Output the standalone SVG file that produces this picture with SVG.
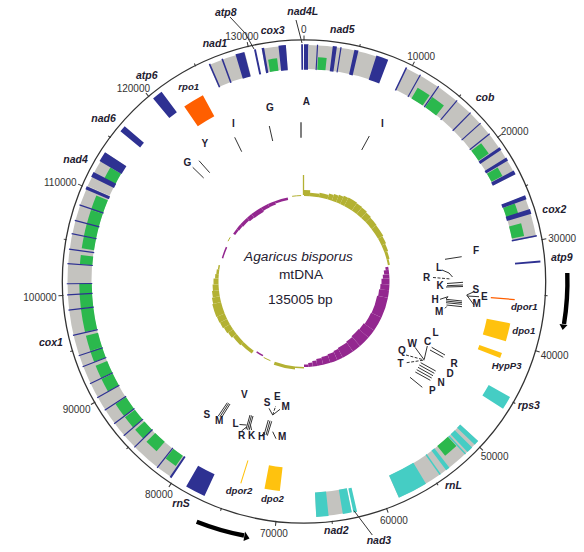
<svg xmlns="http://www.w3.org/2000/svg" width="584" height="552" viewBox="0 0 584 552">
<style>
text{font-family:"Liberation Sans",Arial,sans-serif;fill:#1e2030}
.n{font-size:10px;fill:#333}
.l{font-size:10.5px;font-weight:bold;font-style:italic}
.s{font-size:9.6px;font-weight:bold;font-style:italic}
.t{font-size:10px;font-weight:bold}
.c{font-size:13.7px;text-anchor:middle}
circle{fill:none}
.y{stroke:#c4c3bf;stroke-width:24}
.b{stroke:#2e3192;stroke-width:25.5}
.g{stroke:#2bb84d;stroke-width:12.5}
.q{stroke:#45cdc4;stroke-width:24.5}
.f{stroke:#ff5f00;stroke-width:24}
.d{stroke:#ffc20e;stroke-width:24}
.o{stroke:#b3b133}
.p{stroke:#93278f}
line,polyline{stroke:#333;fill:none;stroke-width:1}
.k{stroke-width:1.5;stroke:#555}
.m{stroke-dasharray:3 1.5}
</style>
<g id="backbone">
<circle cx="304" cy="281.5" r="241.7" style="stroke:#333;stroke-width:1.3"/>
<g transform="translate(304 281.5)">
<line y1="-241" y2="-246"/><line y1="-241" y2="-244" transform="rotate(13.33)"/><line y1="-241" y2="-246" transform="rotate(26.67)"/><line y1="-241" y2="-244" transform="rotate(40)"/><line y1="-241" y2="-246" transform="rotate(53.33)"/><line y1="-241" y2="-244" transform="rotate(66.66)"/><line y1="-241" y2="-246" transform="rotate(80)"/><line y1="-241" y2="-244" transform="rotate(93.33)"/><line y1="-241" y2="-246" transform="rotate(106.66)"/><line y1="-241" y2="-244" transform="rotate(120)"/><line y1="-241" y2="-246" transform="rotate(133.33)"/><line y1="-241" y2="-244" transform="rotate(146.66)"/><line y1="-241" y2="-246" transform="rotate(160)"/><line y1="-241" y2="-244" transform="rotate(173.33)"/><line y1="-241" y2="-246" transform="rotate(186.66)"/><line y1="-241" y2="-244" transform="rotate(200)"/><line y1="-241" y2="-246" transform="rotate(213.32)"/><line y1="-241" y2="-244" transform="rotate(226.66)"/><line y1="-241" y2="-246" transform="rotate(240)"/><line y1="-241" y2="-244" transform="rotate(253.32)"/><line y1="-241" y2="-246" transform="rotate(266.66)"/><line y1="-241" y2="-244" transform="rotate(280)"/><line y1="-241" y2="-246" transform="rotate(293.32)"/><line y1="-241" y2="-244" transform="rotate(306.65)"/><line y1="-241" y2="-246" transform="rotate(320)"/><line y1="-241" y2="-244" transform="rotate(333.3)"/><line y1="-241" y2="-246" transform="rotate(346.65)"/>
</g>
<text class="n" x="301" y="33">0</text><text class="n" x="407.3" y="60">10000</text><text class="n" x="500.7" y="134.7">20000</text><text class="n" x="548.3" y="242">30000</text><text class="n" x="540.7" y="358.7">40000</text><text class="n" x="480.7" y="460.3">50000</text><text class="n" x="380" y="523.7">60000</text><text class="n" x="260" y="537">70000</text><text class="n" x="145" y="498">80000</text><text class="n" x="62.7" y="412.7">90000</text><text class="n" x="23.3" y="301">100000</text><text class="n" x="44" y="186.3">110000</text><text class="n" x="116.7" y="92">120000</text><text class="n" x="225.3" y="39.7">130000</text>
</g>
<g id="nad4L"><g transform="translate(304 281.5) rotate(-90)"><circle class="b" r="224.5" pathLength="360" stroke-dasharray="0 359.3 .45 720"/><circle class="b" r="224.5" pathLength="360" stroke-dasharray="1.1 720"/></g><text class="l" x="287.3" y="15">nad4L</text></g>
<g id="nad5"><g transform="translate(304 281.5) rotate(-90)"><circle class="y" r="224.5" pathLength="360" stroke-dasharray="0 1.1 18 720"/><circle class="g" r="218.5" pathLength="360" stroke-dasharray="0 3.6 2.2 720"/><circle class="b" r="224.5" pathLength="360" stroke-dasharray="0 3.15 .3 720"/><circle class="b" r="224.5" pathLength="360" stroke-dasharray="0 7 1 720"/><circle class="b" r="224.5" pathLength="360" stroke-dasharray="0 8.85 .3 720"/><circle class="b" r="224.5" pathLength="360" stroke-dasharray="0 12.3 1 720"/><circle class="b" r="224.5" pathLength="360" stroke-dasharray="0 17.8 3 720"/></g><text class="l" x="330" y="32.7">nad5</text></g>
<g id="cob"><g transform="translate(304 281.5) rotate(-90)"><circle class="y" r="224.5" pathLength="360" stroke-dasharray="0 25.6 37.5 720"/><circle class="g" r="218.5" pathLength="360" stroke-dasharray="0 30.4 3.6 720"/><circle class="g" r="218.5" pathLength="360" stroke-dasharray="0 34.8 3.7 720"/><circle class="g" r="218.5" pathLength="360" stroke-dasharray="0 52 3.3 720"/><circle class="g" r="218.5" pathLength="360" stroke-dasharray="0 59.5 2.5 720"/><circle class="b" r="224.5" pathLength="360" stroke-dasharray="0 25.4 .4 720"/><circle class="b" r="224.5" pathLength="360" stroke-dasharray="0 29.25 .3 720"/><circle class="b" r="224.5" pathLength="360" stroke-dasharray="0 34.45 .3 720"/><circle class="b" r="224.5" pathLength="360" stroke-dasharray="0 40.05 .3 720"/><circle class="b" r="224.5" pathLength="360" stroke-dasharray="0 44.45 .3 720"/><circle class="b" r="224.5" pathLength="360" stroke-dasharray="0 47.95 .3 720"/><circle class="b" r="224.5" pathLength="360" stroke-dasharray="0 51.35 .3 720"/><circle class="b" r="224.5" pathLength="360" stroke-dasharray="0 55.5 .8 720"/><circle class="b" r="224.5" pathLength="360" stroke-dasharray="0 58.5 .8 720"/><circle class="b" r="224.5" pathLength="360" stroke-dasharray="0 62.1 1 720"/></g><text class="l" x="475.7" y="101">cob</text></g>
<g id="cox2"><g transform="translate(304 281.5) rotate(-90)"><circle class="y" r="224.5" pathLength="360" stroke-dasharray="0 68.8 10.3 720"/><circle class="g" r="218.5" pathLength="360" stroke-dasharray="0 69.7 2.8 720"/><circle class="g" r="218.5" pathLength="360" stroke-dasharray="0 75 3.3 720"/><circle class="b" r="224.5" pathLength="360" stroke-dasharray="0 68.7 1 720"/><circle class="b" r="224.5" pathLength="360" stroke-dasharray="0 72.2 1.2 720"/><circle class="b" r="224.5" pathLength="360" stroke-dasharray="0 78.7 .4 720"/></g><text class="l" x="542.3" y="213">cox2</text></g>
<g id="atp9"><g transform="translate(304 281.5) rotate(-90)"><circle class="b" r="224.5" pathLength="360" stroke-dasharray="0 84.9 .5 720"/></g><text class="l" x="551" y="261">atp9</text></g>
<g id="dpor1"><g transform="translate(304 281.5) rotate(-90)"><circle class="f" r="199.5" pathLength="360" stroke-dasharray="0 94.75 .35 720"/></g><text class="s" x="511" y="310">dpor1</text></g>
<g id="dpo1"><g transform="translate(304 281.5) rotate(-90)"><circle class="d" r="198.5" pathLength="360" stroke-dasharray="0 101.5 5 720"/></g><text class="s" x="512.3" y="334">dpo1</text></g>
<g id="HypP3"><g transform="translate(304 281.5) rotate(-90)"><circle class="d" r="198.5" pathLength="360" stroke-dasharray="0 109.9 1.4 720"/></g><text class="s" x="491.7" y="369">HypP3</text></g>
<g id="rps3"><g transform="translate(304 281.5) rotate(-90)"><circle class="q" r="224" pathLength="360" stroke-dasharray="0 119.3 3.3 720"/></g><text class="l" x="517.7" y="409.3">rps3</text></g>
<g id="rnL"><g transform="translate(304 281.5) rotate(-90)"><circle class="y" r="224" pathLength="360" stroke-dasharray="0 132.5 23.8 720"/><circle class="q" r="224" pathLength="360" stroke-dasharray="0 132.5 1.2 720"/><circle class="q" r="224" pathLength="360" stroke-dasharray="0 134.6 1.6 720"/><circle class="q" r="224" pathLength="360" stroke-dasharray="0 136.7 .35 720"/><circle class="g" r="218" pathLength="360" stroke-dasharray="0 137.2 3.8 720"/><circle class="q" r="224" pathLength="360" stroke-dasharray="0 142 1 720"/><circle class="q" r="224" pathLength="360" stroke-dasharray="0 144.6 .35 720"/><circle class="q" r="224" pathLength="360" stroke-dasharray="0 148.9 7.4 720"/></g><text class="l" x="445" y="489.3">rnL</text></g>
<g id="nad3"><g transform="translate(304 281.5) rotate(-90)"><circle class="q" r="224" pathLength="360" stroke-dasharray="0 167 .9 720"/></g><text class="l" x="366.7" y="543.7">nad3</text></g>
<g id="nad2"><g transform="translate(304 281.5) rotate(-90)"><circle class="y" r="223.5" pathLength="360" stroke-dasharray="0 168.3 8.7 720"/><circle class="q" r="223.5" pathLength="360" stroke-dasharray="0 168.3 2.2 720"/><circle class="q" r="223.5" pathLength="360" stroke-dasharray="0 174 3 720"/></g><text class="l" x="324" y="533.7">nad2</text></g>
<g id="dpo2"><g transform="translate(304 281.5) rotate(-90)"><circle class="d" r="199" pathLength="360" stroke-dasharray="0 186.6 4.2 720"/></g><text class="s" x="261" y="502">dpo2</text></g>
<g id="dpor2"><g transform="translate(304 281.5) rotate(-90)"><circle class="d" r="199.5" pathLength="360" stroke-dasharray="0 197.25 .3 720"/></g><text class="s" x="225.7" y="494">dpor2</text></g>
<g id="rnS"><g transform="translate(304 281.5) rotate(-90)"><circle class="b" r="224.5" pathLength="360" stroke-dasharray="0 204.9 5 720" style="stroke-width:24"/></g><text class="l" x="172.3" y="507">rnS</text></g>
<g id="cox1"><g transform="translate(304 281.5) rotate(-90)"><circle class="y" r="224.5" pathLength="360" stroke-dasharray="0 214.2 79.6 720"/>
<circle class="g" r="218.5" pathLength="360" stroke-dasharray="0 214.8 3.2 720"/><circle class="g" r="218.5" pathLength="360" stroke-dasharray="0 221 3.5 720"/><circle class="g" r="218.5" pathLength="360" stroke-dasharray="0 225.6 3.1 720"/><circle class="g" r="218.5" pathLength="360" stroke-dasharray="0 229.5 3.3 720"/><circle class="g" r="218.5" pathLength="360" stroke-dasharray="0 233.2 3.8 720"/><circle class="g" r="218.5" pathLength="360" stroke-dasharray="0 240.7 3.6 720"/><circle class="g" r="218.5" pathLength="360" stroke-dasharray="0 244.5 3.5 720"/><circle class="g" r="218.5" pathLength="360" stroke-dasharray="0 249 3 720"/><circle class="g" r="218.5" pathLength="360" stroke-dasharray="0 252 4 720"/><circle class="g" r="218.5" pathLength="360" stroke-dasharray="0 257 6 720"/><circle class="g" r="218.5" pathLength="360" stroke-dasharray="0 263.1 6.4 720"/><circle class="g" r="218.5" pathLength="360" stroke-dasharray="0 274.4 2.4 720"/><circle class="g" r="218.5" pathLength="360" stroke-dasharray="0 278.5 3.2 720"/><circle class="g" r="218.5" pathLength="360" stroke-dasharray="0 281.7 3.3 720"/><circle class="g" r="218.5" pathLength="360" stroke-dasharray="0 284.8 3.8 720"/><circle class="g" r="218.5" pathLength="360" stroke-dasharray="0 288.6 3.9 720"/>
<circle class="b" r="224.5" pathLength="360" stroke-dasharray="0 214 .5 720"/><circle class="b" r="224.5" pathLength="360" stroke-dasharray="0 218.1 .3 720"/><circle class="b" r="224.5" pathLength="360" stroke-dasharray="0 225.5 .3 720"/><circle class="b" r="224.5" pathLength="360" stroke-dasharray="0 229.3 .3 720"/><circle class="b" r="224.5" pathLength="360" stroke-dasharray="0 233 .3 720"/><circle class="b" r="224.5" pathLength="360" stroke-dasharray="0 237 .3 720"/><circle class="b" r="224.5" pathLength="360" stroke-dasharray="0 240.5 .3 720"/><circle class="b" r="224.5" pathLength="360" stroke-dasharray="0 244.3 .3 720"/><circle class="b" r="224.5" pathLength="360" stroke-dasharray="0 248.8 .3 720"/><circle class="b" r="224.5" pathLength="360" stroke-dasharray="0 251.6 .3 720"/><circle class="b" r="224.5" pathLength="360" stroke-dasharray="0 256.7 .3 720"/><circle class="b" r="224.5" pathLength="360" stroke-dasharray="0 262.9 .3 720"/><circle class="b" r="224.5" pathLength="360" stroke-dasharray="0 266.6 .3 720"/><circle class="b" r="224.5" pathLength="360" stroke-dasharray="0 269.3 .3 720"/><circle class="b" r="224.5" pathLength="360" stroke-dasharray="0 274.2 .3 720"/><circle class="b" r="224.5" pathLength="360" stroke-dasharray="0 277.7 .3 720"/><circle class="b" r="224.5" pathLength="360" stroke-dasharray="0 281.5 .3 720"/><circle class="b" r="224.5" pathLength="360" stroke-dasharray="0 284.8 .3 720"/><circle class="b" r="224.5" pathLength="360" stroke-dasharray="0 288.7 .3 720"/><circle class="b" r="224.5" pathLength="360" stroke-dasharray="0 292.9 .8 720"/></g><text class="l" x="39" y="346">cox1</text></g>
<g id="nad4"><g transform="translate(304 281.5) rotate(-90)"><circle class="y" r="224.5" pathLength="360" stroke-dasharray="0 293.8 9.2 720"/><circle class="g" r="218.5" pathLength="360" stroke-dasharray="0 297 3.5 720"/><circle class="b" r="224.5" pathLength="360" stroke-dasharray="0 296.2 1.3 720"/><circle class="b" r="224.5" pathLength="360" stroke-dasharray="0 300.5 2.5 720"/></g><text class="l" x="63.3" y="163">nad4</text></g>
<g id="nad6"><g transform="translate(304 281.5) rotate(-90)"><circle class="b" r="224.5" pathLength="360" stroke-dasharray="0 309.3 1.6 720"/></g><text class="l" x="91.3" y="122">nad6</text></g>
<g id="atp6"><g transform="translate(304 281.5) rotate(-90)"><circle class="b" r="224.5" pathLength="360" stroke-dasharray="0 320.5 2.6 720"/></g><text class="l" x="136" y="79">atp6</text></g>
<g id="rpo1"><g transform="translate(304 281.5) rotate(-90)"><circle class="f" r="200" pathLength="360" stroke-dasharray="0 325.6 5.9 720"/></g><text class="s" x="178.3" y="90">rpo1</text></g>
<g id="nad1"><g transform="translate(304 281.5) rotate(-90)"><circle class="y" r="224.5" pathLength="360" stroke-dasharray="0 336.3 9.2 720"/><circle class="b" r="224.5" pathLength="360" stroke-dasharray="0 336.3 .4 720"/><circle class="b" r="224.5" pathLength="360" stroke-dasharray="0 339.6 .4 720"/><circle class="b" r="224.5" pathLength="360" stroke-dasharray="0 343.2 2.2 720"/></g><text class="l" x="202.7" y="47">nad1</text></g>
<g id="atp8"><g transform="translate(304 281.5) rotate(-90)"><circle class="b" r="224.5" pathLength="360" stroke-dasharray="0 347.8 .5 720"/></g><text class="l" x="215" y="15.7">atp8</text></g>
<g id="cox3"><g transform="translate(304 281.5) rotate(-90)"><circle class="y" r="224.5" pathLength="360" stroke-dasharray="0 349.7 5.9 720"/><circle class="g" r="218.5" pathLength="360" stroke-dasharray="0 350.8 2.3 720"/><circle class="b" r="224.5" pathLength="360" stroke-dasharray="0 349.7 .6 720"/><circle class="b" r="224.5" pathLength="360" stroke-dasharray="0 353.8 1.8 720"/></g><text class="l" x="260.7" y="33.7">cox3</text></g>
<g id="connectors">
<polyline points="230,17 245,33 254,49"/>
<polyline points="296,20 302,43"/>
<polyline points="354,510.7 372.3,535"/>
</g>
<g id="trna-top">
<line class="k" x1="301" y1="122.3" x2="301" y2="137.7"/><line x1="369.3" y1="136" x2="361.7" y2="150"/><line x1="269.3" y1="126" x2="272.7" y2="141"/><line x1="234.7" y1="137.3" x2="241.7" y2="151.7"/><line x1="199" y1="160.7" x2="209.7" y2="172.7"/><line x1="192.7" y1="167.3" x2="203.7" y2="178"/>
<text class="t" x="302.7" y="105">A</text><text class="t" x="381" y="127.3">I</text><text class="t" x="266" y="111">G</text><text class="t" x="232" y="127.3">I</text><text class="t" x="201.5" y="147">Y</text><text class="t" x="183.5" y="166">G</text>
</g>
<g id="trna-right">
<line x1="445" y1="259.3" x2="461.7" y2="256.7"/>
<polyline points="442,270 449,273 452.5,277"/><line class="m" x1="433" y1="277.5" x2="451" y2="279"/>
<line x1="447" y1="283.5" x2="463" y2="282.3"/><line x1="447" y1="285.7" x2="463" y2="285"/><line x1="446" y1="287" x2="463" y2="286.5"/>
<polyline points="440,299.3 448,296.7 446,299"/><line x1="446" y1="299.3" x2="462" y2="301"/><line x1="446" y1="301" x2="462" y2="302.7"/><line x1="446" y1="302.7" x2="462" y2="304.3"/><line x1="446.5" y1="305" x2="462" y2="306.7"/><line x1="445" y1="308.3" x2="446.7" y2="306.5"/>
<polyline points="474,291.7 466.7,295 474,305"/><line x1="467" y1="296" x2="479" y2="296.7"/>
<text class="t" x="473" y="253.7">F</text><text class="t" x="436" y="271">L</text><text class="t" x="423" y="281">R</text><text class="t" x="436.5" y="288.7">K</text><text class="t" x="472.5" y="292.7">S</text><text class="t" x="481" y="299.7">E</text><text class="t" x="431.5" y="303">H</text><text class="t" x="435" y="314.7">M</text><text class="t" x="472.5" y="307">M</text>
<line x1="431.7" y1="347.3" x2="445" y2="355"/><line x1="430" y1="350" x2="443.3" y2="357.3"/>
<line x1="420.7" y1="362.7" x2="435.7" y2="371"/><line x1="419.3" y1="365" x2="434.3" y2="373.3"/><line x1="418" y1="367.3" x2="433" y2="375.7"/><line x1="416.7" y1="369.7" x2="431.7" y2="378"/><line x1="415.3" y1="372" x2="430.3" y2="380.3"/>
<line x1="410" y1="377.3" x2="422.3" y2="387.3"/>
<line x1="415" y1="347.3" x2="424.3" y2="360"/><line class="m" x1="406" y1="355" x2="424.3" y2="360"/><line class="m" x1="406.7" y1="362.7" x2="424.3" y2="360"/><line x1="427.3" y1="346" x2="424.3" y2="359"/>
<text class="t" x="424" y="344.7">C</text><text class="t" x="432.5" y="336.3">L</text><text class="t" x="407.5" y="347">W</text><text class="t" x="398" y="353.7">Q</text><text class="t" x="397.5" y="367">T</text><text class="t" x="450.5" y="367">R</text><text class="t" x="446.5" y="377">D</text><text class="t" x="437.5" y="385.7">N</text><text class="t" x="429" y="394.3">P</text>
</g>
<g id="trna-bottom">
<line x1="227.3" y1="402.7" x2="218.3" y2="416"/><line x1="228.7" y1="403.3" x2="220" y2="416.7"/><line x1="230" y1="404" x2="221.7" y2="417.3"/>
<line x1="250" y1="415" x2="246" y2="429.3"/><line x1="251.5" y1="415.5" x2="247.5" y2="429.8"/><line x1="253" y1="416" x2="249" y2="430.3"/>
<line x1="239.5" y1="424.5" x2="246.5" y2="425"/><line x1="241.5" y1="431" x2="246.5" y2="427"/><line x1="251.5" y1="430" x2="250.5" y2="425"/>
<line x1="268.3" y1="420" x2="264" y2="435"/><line x1="270" y1="420.7" x2="266" y2="435"/><line x1="271.7" y1="421.3" x2="267.3" y2="435.7"/><line x1="262" y1="435" x2="264" y2="433.3"/>
<line x1="272.7" y1="431.7" x2="276" y2="438.7"/>
<polyline points="269,408.3 272.7,415 280,409.3"/><line class="m" x1="272.7" y1="415" x2="275.7" y2="406"/>
<text class="t" x="203.5" y="417.7">S</text><text class="t" x="215" y="423.7">M</text><text class="t" x="241" y="397.7">V</text><text class="t" x="232.5" y="427">L</text><text class="t" x="238" y="438.7">R</text><text class="t" x="248" y="438.7">K</text><text class="t" x="258" y="440.3">H</text><text class="t" x="278" y="440.3">M</text><text class="t" x="263.7" y="405.7">S</text><text class="t" x="274" y="400">E</text><text class="t" x="281.5" y="409.7">M</text>
</g>
<g id="strand-arrows">
<path d="M567.3 273A263.5 263.5 0 0 1 564 324" fill="none" stroke="#000" stroke-width="4.4"/><polygon points="559.5,324 567.5,325 562.7,330" fill="#000"/>
<path d="M196.7 521.7A263 263 0 0 0 244 535.5" fill="none" stroke="#000" stroke-width="4.4"/><polygon points="245,531.5 243.5,541 249.5,538.5" fill="#000"/>
</g>
<g id="gc-skew"><line x1="303.5" y1="175" x2="303.5" y2="195" style="stroke:#b3b133;stroke-width:1.3"/>
<g transform="translate(304 281.5) rotate(-90)">
<circle class="o" r="88.5" stroke-width="6" pathLength="360" stroke-dasharray="4 720"/><circle class="o" r="87.25" stroke-width="3.5" pathLength="360" stroke-dasharray="0 4 6 720"/><circle class="o" r="87.75" stroke-width="4.5" pathLength="360" stroke-dasharray="0 10 6 720"/><circle class="o" r="88.5" stroke-width="6" pathLength="360" stroke-dasharray="0 16 3 720"/><circle class="o" r="89" stroke-width="7" pathLength="360" stroke-dasharray="0 19 3 720"/><circle class="o" r="89.5" stroke-width="8" pathLength="360" stroke-dasharray="0 22 3 720"/><circle class="o" r="90" stroke-width="9" pathLength="360" stroke-dasharray="0 25 3 720"/><circle class="o" r="90.25" stroke-width="9.5" pathLength="360" stroke-dasharray="0 28 6 720"/><circle class="o" r="90" stroke-width="9" pathLength="360" stroke-dasharray="0 34 4 720"/><circle class="o" r="89.75" stroke-width="8.5" pathLength="360" stroke-dasharray="0 38 4 720"/><circle class="o" r="89.25" stroke-width="7.5" pathLength="360" stroke-dasharray="0 42 4 720"/><circle class="o" r="88.75" stroke-width="6.5" pathLength="360" stroke-dasharray="0 46 6 720"/><circle class="o" r="88.5" stroke-width="6" pathLength="360" stroke-dasharray="0 52 8 720"/><circle class="o" r="88" stroke-width="5" pathLength="360" stroke-dasharray="0 60 5 720"/><circle class="o" r="87.5" stroke-width="4" pathLength="360" stroke-dasharray="0 65 5 720"/><circle class="o" r="87" stroke-width="3" pathLength="360" stroke-dasharray="0 70 5 720"/><circle class="o" r="86.5" stroke-width="2" pathLength="360" stroke-dasharray="0 75 4 720"/>
<circle class="p" r="84" stroke-width="3" pathLength="360" stroke-dasharray="0 80 2 720"/><circle class="p" r="83" stroke-width="5" pathLength="360" stroke-dasharray="0 82 3 720"/><circle class="p" r="82.25" stroke-width="6.5" pathLength="360" stroke-dasharray="0 85 3 720"/><circle class="p" r="81.5" stroke-width="8" pathLength="360" stroke-dasharray="0 88 4 720"/><circle class="p" r="81" stroke-width="9" pathLength="360" stroke-dasharray="0 92 4 720"/><circle class="p" r="80.5" stroke-width="10" pathLength="360" stroke-dasharray="0 96 5 720"/><circle class="p" r="80" stroke-width="11" pathLength="360" stroke-dasharray="0 101 14 720"/><circle class="p" r="79.75" stroke-width="11.5" pathLength="360" stroke-dasharray="0 115 10 720"/><circle class="p" r="79.25" stroke-width="12.5" pathLength="360" stroke-dasharray="0 125 6 720"/><circle class="p" r="79" stroke-width="13" pathLength="360" stroke-dasharray="0 131 8 720"/><circle class="p" r="79.5" stroke-width="12" pathLength="360" stroke-dasharray="0 139 6 720"/><circle class="p" r="80" stroke-width="11" pathLength="360" stroke-dasharray="0 145 8 720"/><circle class="p" r="80.5" stroke-width="10" pathLength="360" stroke-dasharray="0 153 4 720"/><circle class="p" r="81" stroke-width="9" pathLength="360" stroke-dasharray="0 157 5 720"/><circle class="p" r="81.5" stroke-width="8" pathLength="360" stroke-dasharray="0 162 5 720"/><circle class="p" r="82" stroke-width="7" pathLength="360" stroke-dasharray="0 167 4 720"/><circle class="p" r="82.75" stroke-width="5.5" pathLength="360" stroke-dasharray="0 171 3 720"/><circle class="p" r="83.5" stroke-width="4" pathLength="360" stroke-dasharray="0 174 3 720"/><circle class="p" r="84.25" stroke-width="2.5" pathLength="360" stroke-dasharray="0 177 3 720"/>
<circle class="o" r="86.25" stroke-width="1.5" pathLength="360" stroke-dasharray="0 180 6 720"/><circle class="o" r="87" stroke-width="3" pathLength="360" stroke-dasharray="0 186 14 720"/><circle class="o" r="86" stroke-width="1" pathLength="360" stroke-dasharray="0 203 5 720"/><circle class="p" r="84.75" stroke-width="1.5" pathLength="360" stroke-dasharray="0 209 5 720"/>
<circle class="o" r="87.25" stroke-width="3.5" pathLength="360" stroke-dasharray="0 216 9 720"/><circle class="o" r="87.75" stroke-width="4.5" pathLength="360" stroke-dasharray="0 225 7 720"/><circle class="o" r="88.5" stroke-width="6" pathLength="360" stroke-dasharray="0 232 4 720"/><circle class="o" r="89" stroke-width="7" pathLength="360" stroke-dasharray="0 236 4 720"/><circle class="o" r="89.5" stroke-width="8" pathLength="360" stroke-dasharray="0 240 4 720"/><circle class="o" r="89.75" stroke-width="8.5" pathLength="360" stroke-dasharray="0 244 4 720"/><circle class="o" r="90" stroke-width="9" pathLength="360" stroke-dasharray="0 248 8 720"/><circle class="o" r="89.5" stroke-width="8" pathLength="360" stroke-dasharray="0 256 4 720"/><circle class="o" r="89" stroke-width="7" pathLength="360" stroke-dasharray="0 260 4 720"/><circle class="o" r="88.5" stroke-width="6" pathLength="360" stroke-dasharray="0 264 4 720"/><circle class="o" r="88" stroke-width="5" pathLength="360" stroke-dasharray="0 268 4 720"/><circle class="o" r="87.25" stroke-width="3.5" pathLength="360" stroke-dasharray="0 272 3 720"/><circle class="o" r="86.75" stroke-width="2.5" pathLength="360" stroke-dasharray="0 275 3 720"/><circle class="o" r="86.25" stroke-width="1.5" pathLength="360" stroke-dasharray="0 278 3 720"/>
<circle class="p" r="84.75" stroke-width="1.5" pathLength="360" stroke-dasharray="0 286 8 720"/><circle class="o" r="86" stroke-width="1" pathLength="360" stroke-dasharray="0 298 3 720"/><circle class="p" r="84.25" stroke-width="2.5" pathLength="360" stroke-dasharray="0 304 4 720"/><circle class="p" r="84" stroke-width="3" pathLength="360" stroke-dasharray="0 308 4 720"/><circle class="p" r="83.75" stroke-width="3.5" pathLength="360" stroke-dasharray="0 312 6 720"/><circle class="p" r="83.25" stroke-width="4.5" pathLength="360" stroke-dasharray="0 318 4 720"/><circle class="p" r="83" stroke-width="5" pathLength="360" stroke-dasharray="0 322 8 720"/><circle class="p" r="83.5" stroke-width="4" pathLength="360" stroke-dasharray="0 330 5 720"/><circle class="p" r="83.75" stroke-width="3.5" pathLength="360" stroke-dasharray="0 335 5 720"/><circle class="p" r="84.25" stroke-width="2.5" pathLength="360" stroke-dasharray="0 340 9 720"/><circle class="o" r="86" stroke-width="1" pathLength="360" stroke-dasharray="0 352 6 720"/>
</g></g>
<g id="title"><text class="c" x="298.5" y="260.7" font-style="italic">Agaricus bisporus</text><text class="c" x="301" y="279">mtDNA</text><text class="c" x="300.3" y="304.3">135005 bp</text></g>
</svg>
